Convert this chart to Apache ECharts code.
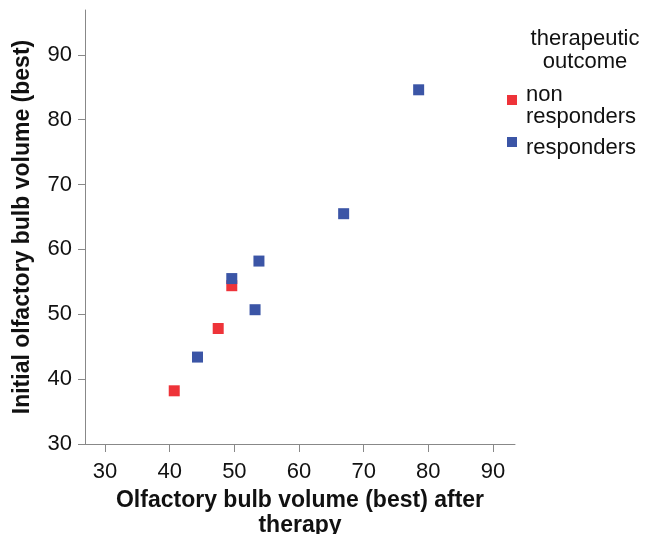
<!DOCTYPE html>
<html>
<head>
<meta charset="utf-8">
<script src="https://cdn.jsdelivr.net/npm/echarts@6/dist/echarts.min.js"></script>
<style>html,body{margin:0;padding:0;background:#fff}#c{width:646px;height:534px}</style>
</head>
<body>
<div id="c"></div>
<script>
const seriesNames = ['non\nresponders', 'responders'];
const nonRespondersX = [40.7, 47.5, 49.6];
const nonRespondersY = [38.2, 47.8, 54.4];
const respondersX = [44.3, 49.6, 53.2, 53.8, 66.9, 78.5];
const respondersY = [43.4, 55.5, 50.7, 58.2, 65.5, 84.6];
const xTicks = [30, 40, 50, 60, 70, 80, 90];
const yTicks = [30, 40, 50, 60, 70, 80, 90];

const FONT = '"Liberation Sans", Arial, sans-serif';
const COLORS = ['#ee3339', '#3b55a6'];
const zip = (xs, ys) => xs.map((x, i) => [x, ys[i]]);
// legend swatch sits in the upper part of a taller icon box (square raised above text centre)
const swatch = c => 'image://data:image/svg+xml;charset=utf-8,' + encodeURIComponent(
  "<svg xmlns='http://www.w3.org/2000/svg' width='10' height='22' viewBox='0 0 10 22'><rect x='0' y='0' width='10' height='10' fill='" + c + "'/></svg>");

const chart = echarts.init(document.getElementById('c'), null, {renderer: 'canvas'});
chart.setOption({
  animation: false,
  backgroundColor: '#fff',
  textStyle: {fontFamily: FONT},
  title: {
    text: 'therapeutic\noutcome',
    left: 580, top: 22,
    textAlign: 'center',
    textStyle: {fontFamily: FONT, fontSize: 22, fontWeight: 'normal', color: '#111', lineHeight: 23}
  },
  legend: {
    orient: 'vertical',
    left: 507, top: 84,
    itemWidth: 10, itemHeight: 22, itemGap: 9,
    padding: 0,
    data: seriesNames.map((n, i) => ({name: n, icon: swatch(COLORS[i])})),
    textStyle: {fontFamily: FONT, fontSize: 22, color: '#111', lineHeight: 22, padding: [0, 0, 0, 4]}
  },
  grid: {left: 85, right: 131, top: 10, bottom: 90, containLabel: false, outerBoundsMode: 'none'},
  xAxis: {
    type: 'value', min: 26.9, max: 93.4,
    name: 'Olfactory bulb volume (best) after\ntherapy',
    nameLocation: 'middle', nameGap: 42,
    nameTextStyle: {fontFamily: FONT, fontSize: 23, fontWeight: 'bold', color: '#111', lineHeight: 25},
    axisLine: {lineStyle: {color: '#888', width: 1}},
    axisTick: {show: true, customValues: xTicks, length: 8, lineStyle: {color: '#888'}},
    axisLabel: {customValues: xTicks, margin: 17, fontFamily: FONT, fontSize: 22, color: '#111'},
    splitLine: {show: false}
  },
  yAxis: {
    type: 'value', min: 30, max: 96.9,
    name: 'Initial olfactory bulb volume (best)',
    nameLocation: 'middle', nameGap: 51,
    nameTextStyle: {fontFamily: FONT, fontSize: 23, fontWeight: 'bold', color: '#111'},
    axisLine: {show: true, lineStyle: {color: '#888', width: 1}},
    axisTick: {show: true, customValues: yTicks, length: 7, lineStyle: {color: '#888'}},
    axisLabel: {customValues: yTicks, margin: 13, fontFamily: FONT, fontSize: 22, color: '#111'},
    splitLine: {show: false}
  },
  series: [
    {
      name: seriesNames[0], type: 'scatter', symbol: 'rect', symbolSize: 11,
      itemStyle: {color: COLORS[0], opacity: 1},
      data: zip(nonRespondersX, nonRespondersY)
    },
    {
      name: seriesNames[1], type: 'scatter', symbol: 'rect', symbolSize: 11,
      itemStyle: {color: COLORS[1], opacity: 1},
      data: zip(respondersX, respondersY)
    }
  ]
});
</script>
</body>
</html>
